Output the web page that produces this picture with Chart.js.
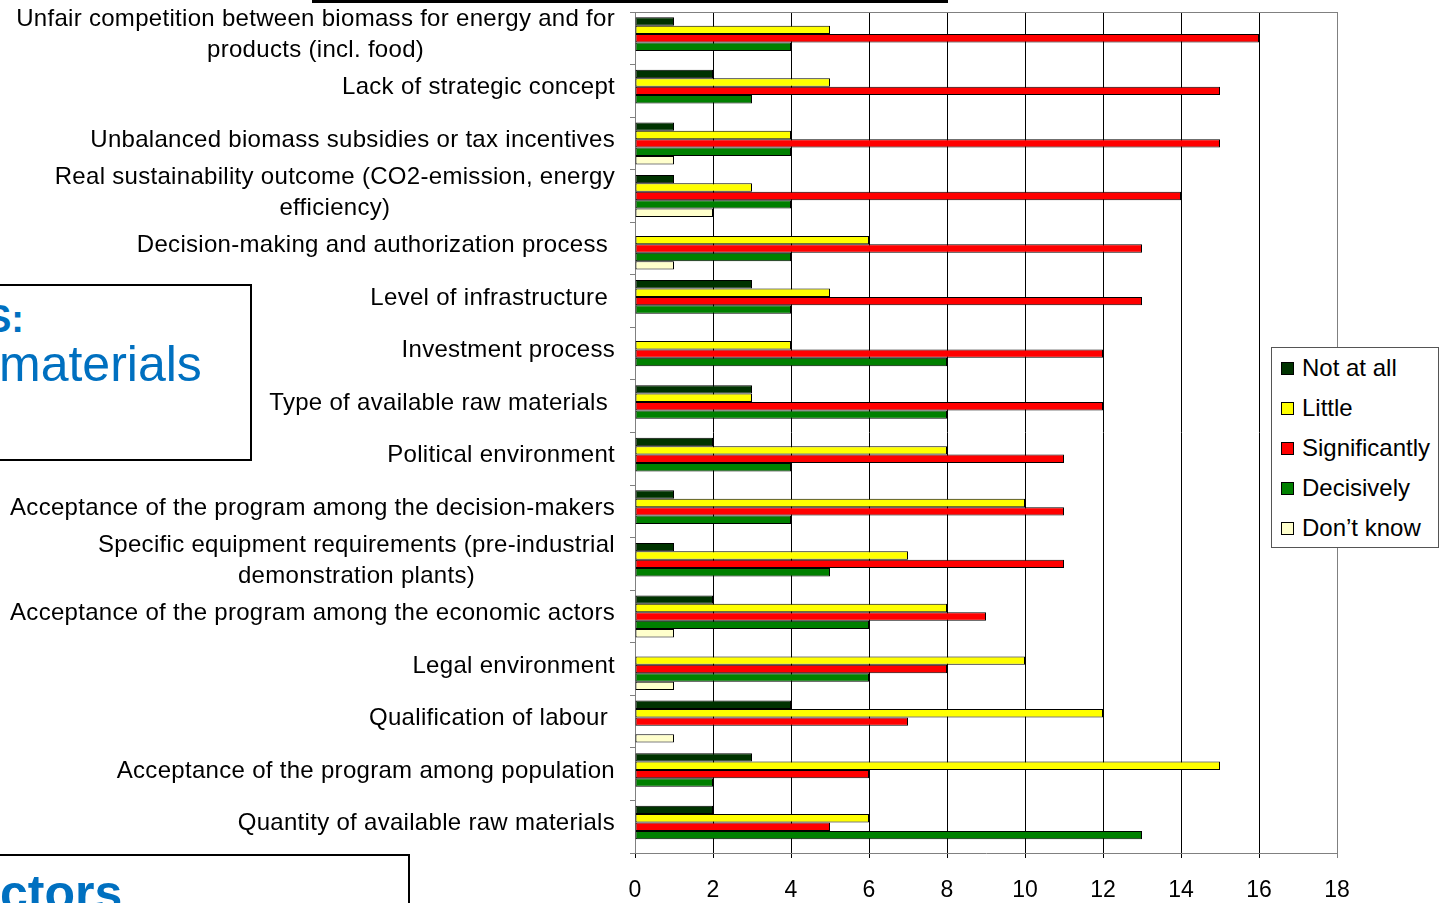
<!DOCTYPE html>
<html>
<head>
<meta charset="utf-8">
<script src="https://cdn.jsdelivr.net/npm/chart.js@4"></script>
<style>
  html, body { margin: 0; padding: 0; background: #fff; overflow: hidden; }
  #wrap { position: relative; width: 1449px; height: 903px; font-family: "Liberation Sans", Arial, sans-serif; }
  #wrap canvas { position: absolute; left: 0; top: 0; }
  .box { position: absolute; border: 2px solid #000; background: #fff; overflow: hidden; }
  .blue { position: absolute; color: #0070c0; white-space: nowrap; line-height: 1; }
  #legend { position: absolute; left: 1271px; top: 347px; width: 166px; height: 199px; border: 1px solid #555; background: #fff; }
  .item { position: absolute; left: 9px; height: 24px; font-size: 24px; line-height: 24px; white-space: nowrap; }
  .item span.sw { display: inline-block; width: 11px; height: 11px; border: 1px solid #000; margin-right: 8px; vertical-align: 1px; }
</style>
</head>
<body>
<div id="wrap">
  <canvas id="myChart" width="1449" height="903"></canvas>
  <!-- bits of the slide around the chart -->
  <div style="position:absolute;left:312px;top:0;width:636px;height:3px;background:#000"></div>
  <div class="box" style="left:-10px;top:284px;width:258px;height:173px">
    <div class="blue" style="left:-6px;top:14px;font-size:38px;font-weight:bold">S:</div>
    <div class="blue" style="left:7px;top:53px;font-size:50px">materials</div>
  </div>
  <div class="box" style="left:-10px;top:854px;width:416px;height:80px">
    <div class="blue" style="left:8px;top:12px;font-size:50px;font-weight:bold">ctors</div>
  </div>
  <div id="legend"></div>
</div>
<script>
// Kategorien (von oben nach unten)
const categories = [
  ['Unfair competition between biomass for energy and for', 'products (incl. food)'],
  'Lack of strategic concept',
  'Unbalanced biomass subsidies or tax incentives',
  ['Real sustainability outcome (CO2-emission, energy', 'efficiency)'],
  'Decision-making and authorization process ',
  'Level of infrastructure ',
  'Investment process',
  'Type of available raw materials ',
  'Political environment',
  'Acceptance of the program among the decision-makers',
  ['Specific equipment requirements (pre-industrial', 'demonstration plants)'],
  'Acceptance of the program among the economic actors',
  'Legal environment',
  'Qualification of labour ',
  'Acceptance of the program among population',
  'Quantity of available raw materials'
];

// Werte je Antwort
const notAtAll      = [1, 2, 1, 1, 0, 3, 0, 3, 2, 1, 1, 2, 0, 4, 3, 2];
const little        = [5, 5, 4, 3, 6, 5, 4, 3, 8, 10, 7, 8, 10, 12, 15, 6];
const significantly = [16, 15, 15, 14, 13, 13, 12, 12, 11, 11, 11, 9, 8, 7, 6, 5];
const decisively    = [4, 3, 4, 4, 4, 4, 8, 8, 4, 4, 5, 6, 6, 0, 2, 13];
const dontKnow      = [0, 0, 1, 2, 1, 0, 0, 0, 0, 0, 0, 1, 1, 1, 0, 0];

const seriesNames  = ['Not at all', 'Little', 'Significantly', 'Decisively', 'Don\u2019t know'];
const seriesColors = ['#003300', '#ffff00', '#ff0000', '#008000', '#ffffcc'];
const xTicks = [0, 2, 4, 6, 8, 10, 12, 14, 16, 18];

const seriesData = [notAtAll, little, significantly, decisively, dontKnow];
const FONT = '"Liberation Sans", Arial, sans-serif';

// eigene Legende
const legend = document.getElementById('legend');
seriesNames.forEach((name, i) => {
  const div = document.createElement('div');
  div.className = 'item';
  div.style.top = (8 + i * 40) + 'px';
  div.innerHTML = '<span class="sw" style="background:' + seriesColors[i] + '"></span>' + name;
  legend.appendChild(div);
});

// Beschriftungen links, mehrzeilig zentriert
const labelPlugin = {
  id: 'catLabels',
  afterDraw(chart) {
    const ctx = chart.ctx;
    const yScale = chart.scales.y;
    const right = chart.chartArea.left - 20;
    ctx.save();
    ctx.font = '24px ' + FONT;
    ctx.letterSpacing = '0.3px';
    ctx.fillStyle = '#000';
    ctx.textBaseline = 'middle';
    ctx.textAlign = 'center';
    categories.forEach((lab, i) => {
      const lines = Array.isArray(lab) ? lab : [lab];
      const cy = yScale.getPixelForTick(i) - 3;
      const maxW = Math.max(...lines.map(l => ctx.measureText(l).width));
      lines.forEach((l, j) => {
        ctx.fillText(l, right - maxW / 2, cy + (j - (lines.length - 1) / 2) * 31);
      });
    });
    ctx.restore();
  }
};

// Rahmen oben
const framePlugin = {
  id: 'frame',
  beforeDatasetsDraw(chart) {
    const a = chart.chartArea;
    const ctx = chart.ctx;
    ctx.save();
    ctx.strokeStyle = '#808080';
    ctx.lineWidth = 1;
    ctx.beginPath();
    ctx.moveTo(a.left, a.top + 0.5);
    ctx.lineTo(a.right, a.top + 0.5);
    ctx.stroke();
    ctx.restore();
  }
};

const ctx = document.getElementById('myChart');
new Chart(ctx, {
  type: 'bar',
  data: {
    labels: categories,
    datasets: seriesNames.map((name, i) => ({
      label: name,
      data: seriesData[i],
      backgroundColor: seriesColors[i],
      borderColor: '#000',
      borderWidth: 1,
      borderSkipped: false,
      categoryPercentage: 0.8,
      barPercentage: 1
    }))
  },
  options: {
    indexAxis: 'y',
    responsive: false,
    animation: false,
    layout: { padding: { top: 12, right: 112, left: 0, bottom: 0 } },
    plugins: { legend: { display: false }, tooltip: { enabled: false } },
    scales: {
      x: {
        min: 0, max: 18,
        afterBuildTicks: (s) => { s.ticks = xTicks.map(v => ({ value: v })); },
        afterFit: (s) => { s.height = 50; },
        ticks: { font: { size: 23, family: FONT }, color: '#000', padding: 19 },
        grid: {
          color: (c) => (c.tick && c.tick.value === 18) ? '#808080' : '#000',
          tickLength: 5
        },
        border: { color: '#808080' }
      },
      y: {
        afterFit: (s) => { s.width = 635; },
        ticks: { display: false },
        grid: { drawOnChartArea: false, tickLength: 5, color: '#808080', offset: true },
        border: { color: '#808080' }
      }
    }
  },
  plugins: [labelPlugin, framePlugin]
});
</script>
</body>
</html>
